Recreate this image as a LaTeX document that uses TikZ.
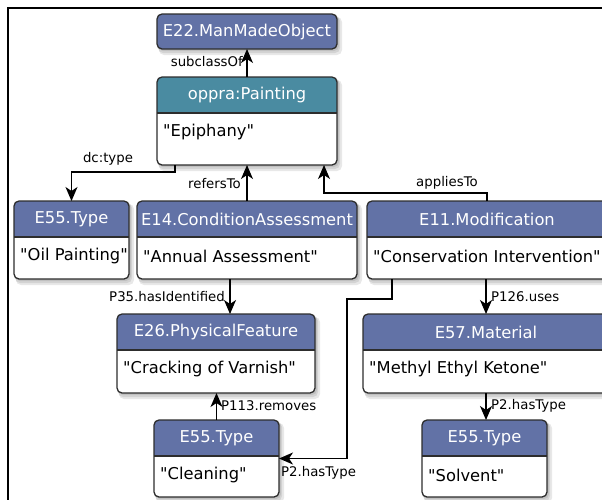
\documentclass[tikz,border=0pt]{standalone}
\usepackage{fontspec}
\setmainfont{DejaVu Sans}
% plain family: straight quotation marks are kept as typed
\newfontfamily\dvs{DejaVu Sans}
\usetikzlibrary{arrows.meta,fit}

\definecolor{hdrblue}{RGB}{98,114,166}
\definecolor{hdrteal}{RGB}{74,139,161}
\definecolor{boxedge}{RGB}{45,45,45}

\tikzset{
  x=1pt, y=-1pt,
  boxframe/.style={draw=boxedge, line width=1.3pt, rounded corners=5pt, inner sep=0pt, outer sep=0pt},
  titletext/.style={text=white, font=\dvs\fontsize{16.3}{19}\selectfont, inner sep=0pt},
  bodytext/.style={text=black, font=\dvs\fontsize{16.3}{19}\selectfont, inner sep=0pt, anchor=west},
  edgelabel/.style={font=\dvs\fontsize{13.3}{16}\selectfont, inner sep=0pt},
  conn/.style={draw=black, line width=1.3pt, -{Stealth[length=14pt,width=12pt,inset=4pt]}},
  shadowfill/.style={fill=black, opacity=0.09, rounded corners=5pt},
}

% class box: name, left, top, right, bottom, header bottom, header colour, title, value
\newcommand\classbox[9]{%
  \fill[shadowfill] (#2+2,#3+3) rectangle (#4+5,#5+6);
  \fill[shadowfill] (#2+1,#3+2) rectangle (#4+3,#5+4);
  \fill[shadowfill] (#2+1,#3+1) rectangle (#4+2,#5+2);
  \begin{scope}
    \clip[rounded corners=5pt] (#2,#3) rectangle (#4,#5);
    \fill[white] (#2,#3) rectangle (#4,#5);
    \fill[#7] (#2,#3) rectangle (#4,#6);
  \end{scope}
  \draw[draw=boxedge, line width=1.3pt] (#2,#6) -- (#4,#6);
  \node[boxframe, fit={(#2,#3) (#4,#5)}] (#1) {};
  \node[titletext] (#1-title) at ({(#2+#4)/2},{(#3+#6)/2}) {#8};
  \node[bodytext] (#1-body) at (#2+6,#6+19) {#9};
}

\begin{document}
\begin{tikzpicture}
  \useasboundingbox (0,0) rectangle (602,499);
  \clip (0,0) rectangle (602,499);

  % outer frame
  \draw[line width=1.5pt] (8,510) |- (615,8);

  % superclass
  \fill[shadowfill] (159,17) rectangle (342,55);
  \fill[shadowfill] (158,16) rectangle (340,53);
  \fill[shadowfill] (158,15) rectangle (339,51);
  \node[boxframe, fill=hdrblue, fit={(157,14) (337,49)}] (mmo) {};
  \node[titletext] (mmo-title) at (mmo.center) {E22.ManMadeObject};

  % classes
  \classbox{paint}{157}{77}{337}{165}{113}{hdrteal}{oppra:Painting}{"Epiphany"}
  \classbox{oil}{14}{201}{129}{279}{237}{hdrblue}{E55.Type}{"Oil Painting"}
  \classbox{assess}{137}{201}{357}{279}{237}{hdrblue}{E14.ConditionAssessment}{"Annual Assessment"}
  \classbox{mod}{367}{201}{607}{279}{237}{hdrblue}{E11.Modification}{"Conservation Intervention"}
  \classbox{phys}{117}{314}{315}{393}{350}{hdrblue}{E26.PhysicalFeature}{"Cracking of Varnish"}
  \classbox{mat}{363}{314}{609}{393}{350}{hdrblue}{E57.Material}{"Methyl Ethyl Ketone"}
  \classbox{clean}{154}{420}{279}{497}{456}{hdrblue}{E55.Type}{"Cleaning"}
  \classbox{solv}{422}{420}{547}{497}{456}{hdrblue}{E55.Type}{"Solvent"}

  % relations
  \draw[conn] (paint.north) -- (mmo.south);
  \node[edgelabel, anchor=east] (l-sub) at (243,62) {subclassOf};

  \draw[conn] ([xshift=18pt]paint.south west) -- ++(0,7) -| (oil.north);
  \node[edgelabel] (l-dctype) at (108,159) {dc:type};

  \draw[conn] (assess.north) -- (assess.north |- paint.south);
  \node[edgelabel, anchor=east] (l-refers) at (241,184) {refersTo};

  \draw[conn] (mod.north) -- ++(0,-8) -| ([xshift=-13pt]paint.south east);
  \node[edgelabel] (l-applies) at (447,183) {appliesTo};

  \coordinate (p35x) at (230,0);
  \draw[conn] (assess.south -| p35x) -- (phys.north -| p35x);
  \node[edgelabel, anchor=east] (l-p35) at (225,297) {P35.hasIdentified};

  \draw[conn] (clean.north) -- (clean.north |- phys.south);
  \node[edgelabel, anchor=west] (l-p113) at (221,406) {P113.removes};

  \coordinate (bendA) at (347,299);
  \draw[conn] ([xshift=25pt]mod.south west) |- (bendA) |- (clean.east);
  \node[edgelabel, anchor=north west] (l-p2a) at (281,466) {P2.hasType};

  \draw[conn] (mod.south -| mat.north) -- (mat.north);
  \node[edgelabel, anchor=west] (l-p126) at (491,297) {P126.uses};

  \draw[conn] (mat.south) -- (mat.south |- solv.north);
  \node[edgelabel, anchor=west] (l-p2b) at (491,406) {P2.hasType};
\end{tikzpicture}
\end{document}
